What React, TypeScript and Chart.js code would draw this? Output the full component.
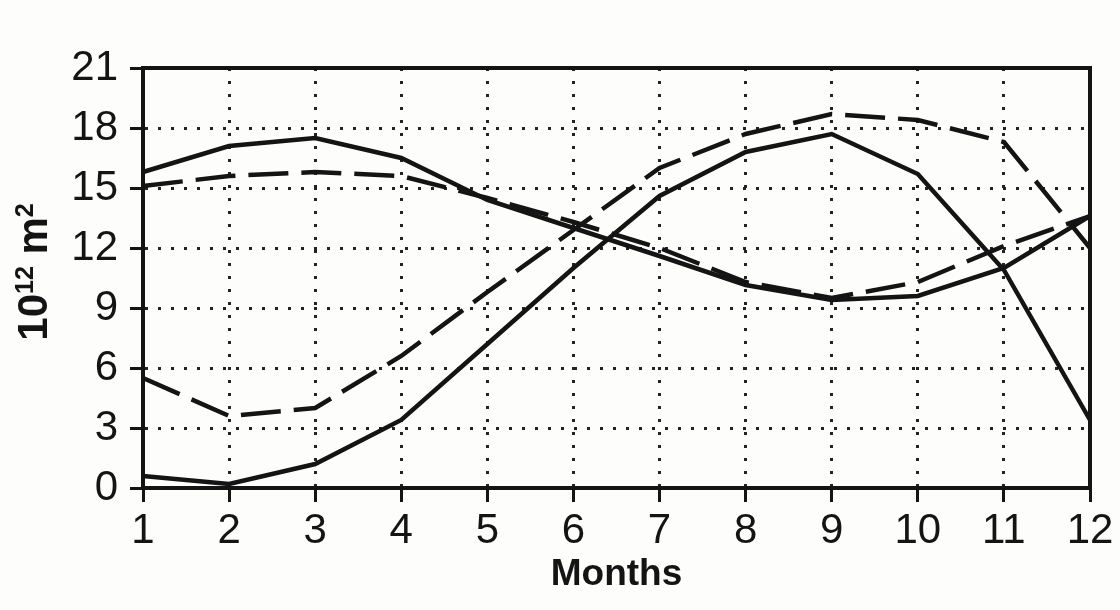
import React, { useEffect, useRef } from "react";
import { Chart, registerables } from "chart.js";

Chart.register(...registerables);

const months: string[] = ["1", "2", "3", "4", "5", "6", "7", "8", "9", "10", "11", "12"];
const yTickValues: number[] = [0, 3, 6, 9, 12, 15, 18, 21];

const solidWinter: number[] = [15.8, 17.1, 17.5, 16.5, 14.4, 13.0, 11.6, 10.15, 9.4, 9.6, 11.0, 13.6];
const solidSummer: number[] = [0.6, 0.2, 1.2, 3.4, 7.2, 11.0, 14.6, 16.8, 17.7, 15.7, 10.9, 3.4];
const dashedWinter: number[] = [15.1, 15.6, 15.8, 15.6, 14.5, 13.3, 12.0, 10.3, 9.5, 10.3, 12.1, 13.6];
const dashedSummer: number[] = [5.5, 3.6, 4.0, 6.6, 9.8, 12.9, 16.0, 17.7, 18.7, 18.4, 17.3, 12.0];

const yTitleParts: { text: string; sup: boolean }[] = [
  { text: "10", sup: false },
  { text: "12", sup: true },
  { text: " m", sup: false },
  { text: "2", sup: true },
];
const xTitle = "Months";

const INK = "#141414";
const SANS = "'Liberation Sans', Arial, sans-serif";

const framePlugin = {
  id: "frameAndTitles",
  beforeDraw(chart: any) {
    const ctx = chart.ctx;
    ctx.save();
    ctx.fillStyle = "#fdfdfb";
    ctx.fillRect(0, 0, chart.width, chart.height);
    ctx.restore();
  },
  afterDraw(chart: any) {
    const ctx = chart.ctx;
    const a = chart.chartArea;
    ctx.save();
    ctx.strokeStyle = INK;
    ctx.lineWidth = 4;
    ctx.beginPath();
    ctx.moveTo(a.left, a.top);
    ctx.lineTo(a.right, a.top);
    ctx.lineTo(a.right, a.bottom);
    ctx.stroke();

    // x title
    ctx.fillStyle = INK;
    ctx.font = `bold 37px ${SANS}`;
    ctx.textAlign = "center";
    ctx.textBaseline = "alphabetic";
    ctx.fillText(xTitle, (a.left + a.right) / 2, 585);

    // y title (rotated, with superscripts)
    const mainFont = `bold 42px ${SANS}`;
    const supFont = `bold 25px ${SANS}`;
    let total = 0;
    const widths: number[] = [];
    for (const p of yTitleParts) {
      ctx.font = p.sup ? supFont : mainFont;
      const w = ctx.measureText(p.text).width;
      widths.push(w);
      total += w;
    }
    ctx.translate(47, 272);
    ctx.rotate(-Math.PI / 2);
    ctx.textAlign = "left";
    let x = -total / 2;
    yTitleParts.forEach((p, i) => {
      ctx.font = p.sup ? supFont : mainFont;
      ctx.fillText(p.text, x, p.sup ? -14 : 0);
      x += widths[i];
    });
    ctx.restore();
  },
};

export default function App() {
  const canvasRef = useRef<HTMLCanvasElement | null>(null);

  useEffect(() => {
    if (!canvasRef.current) return;
    const line = (data: number[], dashed: boolean) => ({
      data,
      borderColor: INK,
      borderWidth: 4.5,
      borderDash: dashed ? [40, 13] : [],
      pointRadius: 0,
      tension: 0,
      fill: false,
    });
    const chart = new Chart(canvasRef.current, {
      type: "line",
      data: {
        labels: months,
        datasets: [
          line(solidWinter, false),
          line(solidSummer, false),
          line(dashedWinter, true),
          line(dashedSummer, true),
        ],
      },
      options: {
        animation: false,
        responsive: false,
        layout: { padding: { left: 0, right: 30, top: 68, bottom: 0 } },
        plugins: {
          legend: { display: false },
          tooltip: { enabled: false },
        },
        scales: {
          x: {
            type: "category",
            offset: false,
            grid: {
              color: "#222",
              lineWidth: 3,
              tickLength: 14,
              tickColor: INK,
              tickWidth: 3,
              tickBorderDash: [],
            },
            border: { display: true, color: INK, width: 4, dash: [3, 10] },
            ticks: {
              color: INK,
              font: { family: SANS, size: 42 },
              padding: 4,
              maxRotation: 0,
              autoSkip: false,
            },
            afterFit(scale: any) {
              scale.height = 122;
            },
          },
          y: {
            min: 0,
            max: 21,
            afterBuildTicks(scale: any) {
              scale.ticks = yTickValues.map((v) => ({ value: v }));
            },
            grid: {
              color: "#222",
              lineWidth: 3,
              tickLength: 13,
              tickColor: INK,
              tickWidth: 3,
              tickBorderDash: [],
            },
            border: { display: true, color: INK, width: 4, dash: [3, 10] },
            ticks: {
              color: INK,
              font: { family: SANS, size: 42 },
              padding: 12,
            },
            afterFit(scale: any) {
              scale.width = 143;
            },
          },
        },
      },
      plugins: [framePlugin],
    } as any);
    return () => chart.destroy();
  }, []);

  return (
    <div style={{ position: "absolute", left: 0, top: 0, width: 1120, height: 610, background: "#fdfdfb" }}>
      <canvas ref={canvasRef} width={1120} height={610} style={{ display: "block" }} />
    </div>
  );
}
